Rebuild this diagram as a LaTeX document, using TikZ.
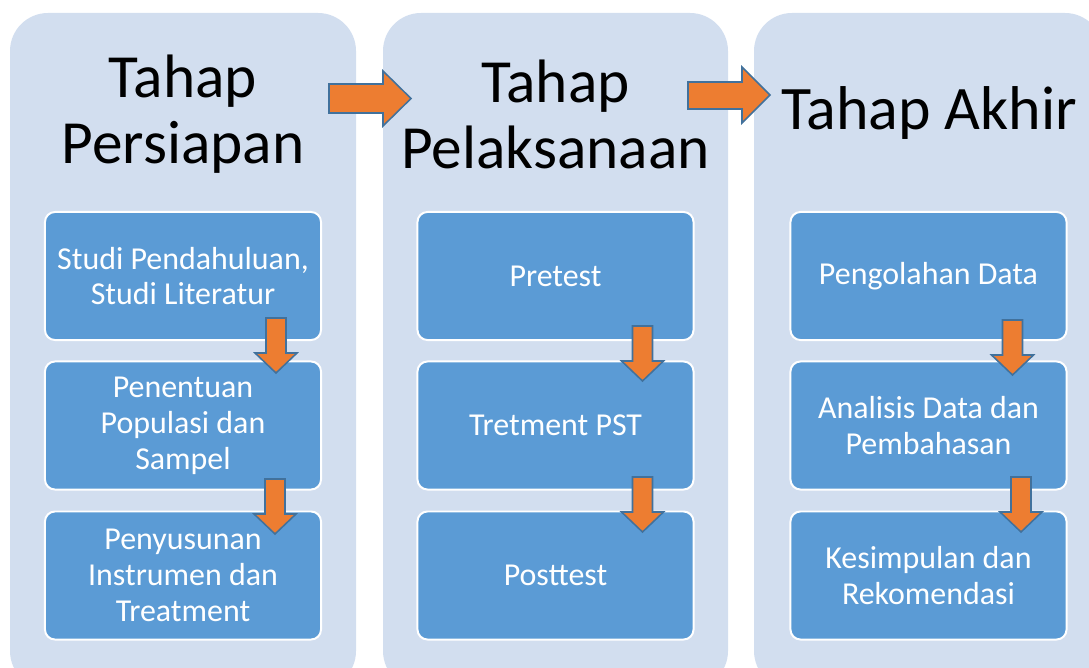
\documentclass[tikz,border=0pt]{standalone}
\usepackage{fontspec}
\setmainfont{Carlito}
\definecolor{panelbg}{RGB}{210,222,239}
\definecolor{kotakbg}{RGB}{91,155,213}
\definecolor{oranye}{RGB}{237,125,49}
\definecolor{garis}{RGB}{65,113,156}

\begin{document}
\begin{tikzpicture}[x=0.025cm, y=-0.025cm, line join=miter,
    panel/.style={fill=panelbg, rounded corners=0.95cm},
    kotak/.style={draw=white, line width=1.4pt, fill=kotakbg, rounded corners=0.25cm,
        minimum width=6.9cm, minimum height=3.2cm, inner sep=0pt, text=white,
        align=center, font=\fontsize{22.7}{25.5}\selectfont},
    judul/.style={align=center, font=\fontsize{43.6}{47}\selectfont},
    panah/.style={fill=oranye, draw=garis, line width=1.1pt}]
    \useasboundingbox (0,0) rectangle (1089,668);
    \clip (0,0) rectangle (1089,668);

    % panel latar
    \foreach \xa/\xb in {10/356, 383/728, 754/1103}
        \fill[panel] (\xa,13) rectangle (\xb,689);

    % judul tahap
    \node[judul] (judul1) at (183,114) {Tahap\\Persiapan};
    \node[judul] (judul2) at (555.5,114) {Tahap\\Pelaksanaan};
    \node[judul, font=\fontsize{44}{44}\selectfont] (judul3) at (929,113) {Tahap Akhir};

    % kotak kegiatan
    \node[kotak] (s1) at (183,276)   {Studi Pendahuluan,\\Studi Literatur};
    \node[kotak] (s2) at (183,425.5) {Penentuan\\Populasi dan\\Sampel};
    \node[kotak] (s3) at (183,575.5) {Penyusunan\\Instrumen dan\\Treatment};
    \node[kotak] (p1) at (555.5,276)   {Pretest};
    \node[kotak] (p2) at (555.5,425.5) {Tretment PST};
    \node[kotak] (p3) at (555.5,575.5) {Posttest};
    \node[kotak] (a1) at (928.5,276)   {Pengolahan Data};
    \node[kotak] (a2) at (928.5,425.5) {Analisis Data dan\\Pembahasan};
    \node[kotak] (a3) at (928.5,575.5) {Kesimpulan dan\\Rekomendasi};

    % panah ke bawah
    \foreach \x/\y in {276/318, 275/479, 642.5/326, 642.5/477, 1012.5/320, 1021/477}
        \draw[panah] (\x-10,\y) -- (\x+10,\y) -- (\x+10,\y+35) -- (\x+21,\y+35)
            -- (\x,\y+55) -- (\x-21,\y+35) -- (\x-10,\y+35) -- cycle;

    % panah ke kanan
    \draw[panah] (329,84) -- (383,84) -- (383,71) -- (411,98.5) -- (383,126) -- (383,113) -- (329,113) -- cycle;
    \draw[panah] (688,82) -- (742,82) -- (742,67) -- (770,95) -- (742,123) -- (742,109) -- (688,109) -- cycle;
\end{tikzpicture}
\end{document}
